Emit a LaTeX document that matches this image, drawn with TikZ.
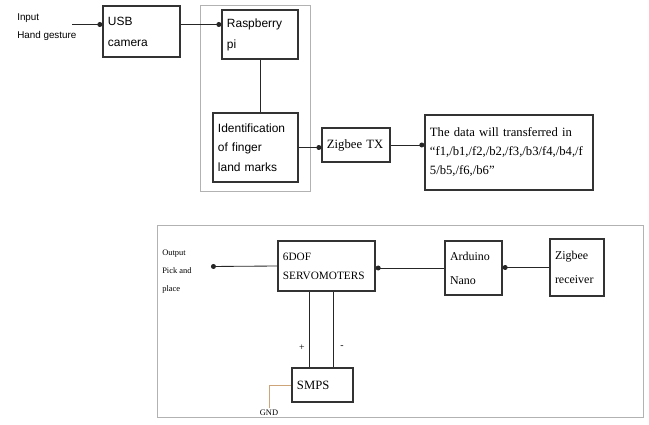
\documentclass[tikz,border=0pt]{standalone}
\usepackage{fontspec}
\setmainfont{Liberation Serif}
\setsansfont{Liberation Sans}
\usetikzlibrary{arrows.meta}
\begin{document}
\begin{tikzpicture}[x=0.025cm,y=-0.025cm,
blk/.style={draw=black!80,line width=1pt,fill=white,align=left,inner xsep=0.125cm,inner ysep=0pt},
gt/.style={font=\sffamily\fontsize{8.5}{15}\selectfont},
rt/.style={font=\fontsize{9}{13.5}\selectfont},
dot/.style={-{Circle[length=3.5pt]},line width=0.6pt,black!85},
wire/.style={line width=0.6pt,black!85},
grp/.style={draw=black!30,line width=0.7pt}]
\useasboundingbox(0,0)rectangle(649,425);
\draw[grp](200,5)rectangle(310,191);
\draw[grp](157,225)rectangle(643,417);
\node[inner sep=0,anchor=north west,align=left,font=\sffamily\fontsize{7}{13}\selectfont](inp)at(17,13){Input\\Hand gesture};
\coordinate(inend)at(72,24.5);
\node[blk,gt,text width=1.675cm,minimum height=1.275cm](usb)at(141.5,31.5){USB\\camera};
\node[blk,gt,text width=1.65cm,minimum height=1.225cm](rpi)at(260,34.5){Raspberry\\pi};
\node[blk,gt,text width=1.875cm,minimum height=1.725cm,font=\sffamily\fontsize{8.5}{14}\selectfont](ident)at(255.5,147.5){Identification\\of finger\\land marks};
\node[blk,rt,text width=1.45cm,minimum height=0.85cm](ztx)at(356,145){Zigbee TX};
\node[blk,rt,text width=3.95cm,minimum height=1.875cm](data)at(509,152.5){The data will transferred in\\``f1,/b1,/f2,/b2,/f3,/b3/f4,/b4,/f\\5/b5,/f6,/b6''};
\draw[dot](inend)--(inend-|usb.west);
\draw[dot](usb.east|-inend)--(rpi.west|-inend);
\draw[wire](rpi.south)--(rpi.south|-ident.north);
\draw[dot](ident.east)--(ident.east-|ztx.west);
\draw[dot](ztx.east)--(ztx.east-|data.west);
\node[blk,font=\fontsize{8}{13.5}\selectfont,text width=2.175cm,minimum height=1.25cm](servo)at(326.5,266){6DOF\\SERVOMOTERS};
\node[blk,font=\fontsize{8.5}{17}\selectfont,text width=1.175cm,minimum height=1.35cm](ard)at(473.5,268){Arduino\\Nano};
\node[blk,font=\fontsize{8.5}{17}\selectfont,text width=1.1cm,minimum height=1.425cm](zrx)at(577,267.5){Zigbee\\receiver};
\node[blk,rt,text width=1.275cm,minimum height=0.85cm](smps)at(322.5,385){SMPS};
\node[inner sep=0,anchor=north west,align=left,font=\fontsize{6}{12.8}\selectfont](out)at(162,250){Output\\Pick and\\place};
\coordinate(outend)at(211,266.5);
\node[inner sep=0,font=\fontsize{6}{7}\selectfont](gnd)at(269,413){GND};
\node[inner sep=0,font=\fontsize{7}{8}\selectfont](plus)at(302,348){+};
\node[inner sep=0,font=\fontsize{7}{8}\selectfont](minus)at(342,347){-};
\draw[dot](zrx.west)--(zrx.west-|ard.east);
\draw[dot](ard.west)--(ard.west-|servo.east);
\draw[dot](servo.west)--(outend);
\draw[wire]([xshift=0.45cm]smps.north west)--([xshift=0.45cm]smps.north west|-servo.south);
\draw[wire]([xshift=-0.5cm]smps.north east)--([xshift=-0.5cm]smps.north east|-servo.south);
\draw[line width=0.6pt,color={rgb,255:red,205;green,165;blue,120}]([yshift=1pt]gnd.north)|-(smps.west);
\end{tikzpicture}
\end{document}
